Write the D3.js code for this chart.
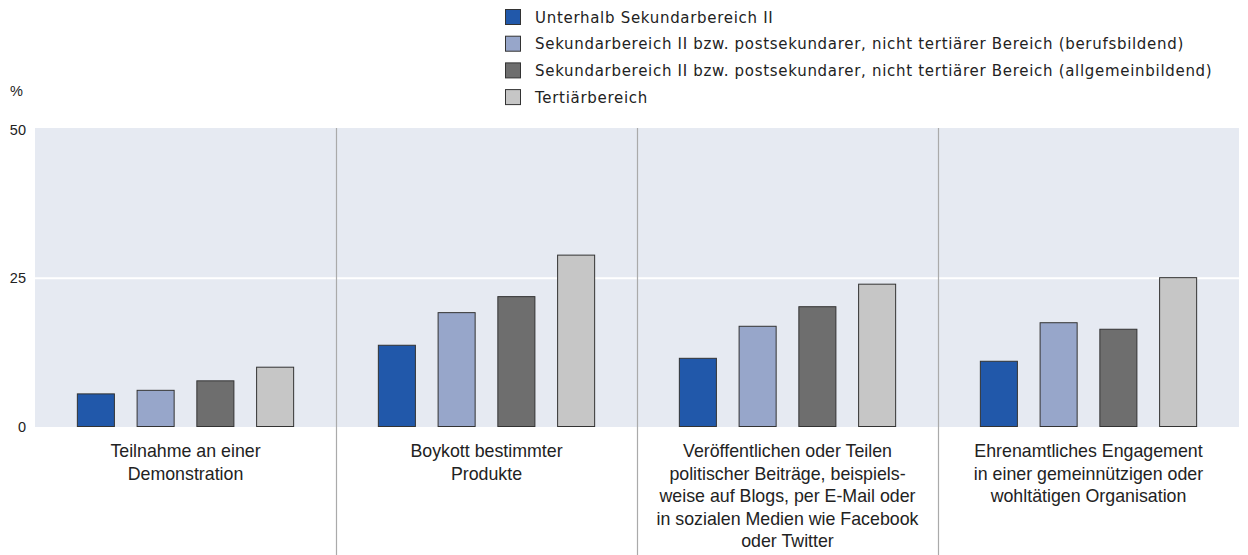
<!DOCTYPE html>
<html><head><meta charset="utf-8">
<script src="https://cdn.jsdelivr.net/npm/d3@7"></script>
<style>body{margin:0;background:#fff}svg{display:block}</style>
</head><body><svg id="c" width="1248" height="555"></svg>
<script>
const categories = [
  ["Teilnahme an einer","Demonstration"],
  ["Boykott bestimmter","Produkte"],
  ["Veröffentlichen oder Teilen","politischer Beiträge, beispiels-","weise auf Blogs, per E-Mail oder","in sozialen Medien wie Facebook","oder Twitter"],
  ["Ehrenamtliches Engagement","in einer gemeinnützigen oder","wohltätigen Organisation"]
];
const seriesNames = [
  "Unterhalb Sekundarbereich II",
  "Sekundarbereich II bzw. postsekundarer, nicht tertiärer Bereich (berufsbildend)",
  "Sekundarbereich II bzw. postsekundarer, nicht tertiärer Bereich (allgemeinbildend)",
  "Tertiärbereich"
];
const unterhalb   = [5.5, 13.7, 11.5, 11.0];
const berufsb     = [6.1, 19.2, 16.9, 17.5];
const allgemeinb  = [7.7, 21.9, 20.2, 16.4];
const tertiaer    = [10.0, 28.9, 24.0, 25.1];
const seriesValues = [unterhalb, berufsb, allgemeinb, tertiaer];
const colors = ["#2158aa", "#97a6ca", "#6e6e6e", "#c6c6c6"];
const yTicks = [0, 25, 50];

const svg = d3.select("#c");
const pLeft = 35, pRight = 1239, pTop = 128, pBottom = 427;
const x0 = d3.scaleBand().domain(d3.range(categories.length)).range([pLeft, pRight]);
const x1 = d3.scaleBand().domain(d3.range(seriesNames.length)).range([31, x0.bandwidth() - 31]).paddingInner(0.38).paddingOuter(0.19);
const y = d3.scaleLinear().domain([0, 50]).range([426.5, 130]);

svg.append("rect").attr("x", pLeft).attr("y", pTop).attr("width", pRight - pLeft).attr("height", pBottom - pTop).attr("fill", "#e6eaf2");
svg.append("g").selectAll("line").data(yTicks.filter(d => d > 0 && d < 50)).join("line")
  .attr("x1", pLeft).attr("x2", pRight).attr("y1", d => y(d)).attr("y2", d => y(d))
  .attr("stroke", "#fff").attr("stroke-width", 2);

// separators
svg.append("g").selectAll("line").data(d3.range(1, categories.length)).join("line")
  .attr("x1", d => Math.round(x0(d)) + 0.5).attr("x2", d => Math.round(x0(d)) + 0.5)
  .attr("y1", pTop).attr("y2", 555).attr("stroke", "#aaaaaa").attr("stroke-width", 1.2);

// y axis labels
const yAxis = d3.axisLeft(y).tickValues(yTicks).tickSize(0).tickPadding(0);
const ga = svg.append("g").attr("transform", "translate(26,0)").call(yAxis);
ga.select(".domain").remove();
ga.selectAll("text").attr("font-family", "Liberation Sans, Arial, sans-serif").attr("font-size", 14.5).attr("fill", "#222");
svg.append("text").attr("x", 10).attr("y", 96).text("%").attr("font-family", "Liberation Sans, Arial, sans-serif").attr("font-size", 14.5).attr("fill", "#222");

// bars
const groups = svg.append("g").selectAll("g").data(categories).join("g")
  .attr("transform", (d, i) => `translate(${x0(i)},0)`);
groups.selectAll("rect").data((d, i) => seriesValues.map((s, k) => ({k, v: s[i]}))).join("rect")
  .attr("x", d => x1(d.k)).attr("width", x1.bandwidth())
  .attr("y", d => y(d.v)).attr("height", d => y(0) - y(d.v))
  .attr("fill", d => colors[d.k]).attr("stroke", "#333").attr("stroke-width", 1);

// category labels
groups.append("text").attr("font-family", "Liberation Sans Narrow, Arial Narrow, Liberation Sans, sans-serif")
  .attr("font-size", 17.8).attr("fill", "#222").attr("text-anchor", "middle")
  .selectAll("tspan").data(d => d).join("tspan")
  .attr("x", x0.bandwidth() / 2).attr("y", (d, j) => 457 + j * 22.5).text(d => d);

// legend
const lg = svg.append("g").selectAll("g").data(seriesNames).join("g")
  .attr("transform", (d, i) => `translate(505,${9 + i * 26.7})`);
lg.append("rect").attr("x", 0.5).attr("y", 0.5).attr("width", 15).attr("height", 15)
  .attr("fill", (d, i) => colors[i]).attr("stroke", "#333").attr("stroke-width", 1);
lg.append("text").attr("x", 30).attr("y", 13.5).text(d => d)
  .attr("font-family", "DejaVu Sans, sans-serif").attr("font-size", 15).attr("letter-spacing", 0.7).attr("fill", "#222");
</script></body></html>
